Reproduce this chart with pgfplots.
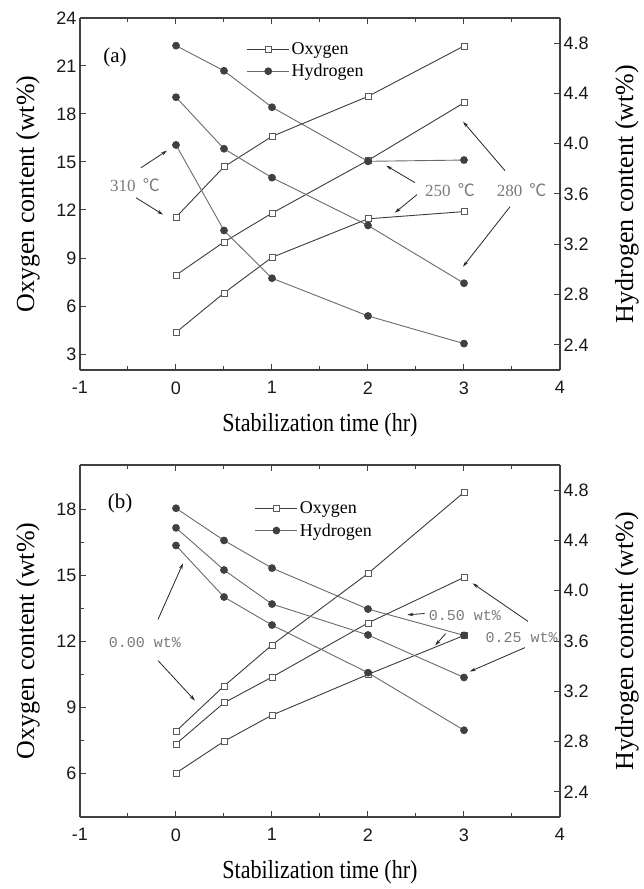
\documentclass[border=0pt]{standalone}
\usepackage{fontspec}
\setmainfont{Liberation Serif}
\setsansfont{Liberation Sans}
\setmonofont{Liberation Mono}
\newfontfamily\cjk{Noto Sans CJK SC}
\usepackage{graphicx}
\usepackage{pgfplots}
\pgfplotsset{compat=1.18}
\usetikzlibrary{arrows.meta}

\definecolor{oline}{HTML}{3C3C3C}
\definecolor{hline}{HTML}{6A6A6A}
\definecolor{hfill}{HTML}{404040}
\definecolor{sqedge}{HTML}{5A5A5A}
\definecolor{annoc}{HTML}{7A7A7A}
\definecolor{axc}{HTML}{404040}

\tikzset{
  anno/.style={text=annoc, font=\fontsize{17}{17}\selectfont},
  annomono/.style={text=annoc, font=\fontsize{15}{15}\selectfont\ttfamily},
  arr/.style={-{Stealth[length=6pt,width=3.5pt]}, line width=0.8pt, black!85},
}

\pgfplotsset{
  base/.style={
    scale only axis, width=480pt, height=352pt,
    xmin=-1, xmax=4, xtick={-1,0,1,2,3,4}, minor x tick num=1,
    axis line style={axc, line width=1.2pt},
    tick style={axc, line width=1pt},
    major tick length=6pt, minor tick length=4pt,
    tick label style={font=\fontsize{18}{18}\selectfont\sffamily, text=black!90},
    xticklabel style={yshift=-8pt},
    /pgf/number format/assume math mode=true,
    clip=false,
    legend image code/.code={\draw[mark repeat=2,mark phase=2] plot coordinates {(0pt,0pt)(21pt,0pt)(42pt,0pt)};},
  },
  omark/.style={oline, line width=0.9pt, mark=square*, mark size=3pt, mark options={fill=white, draw=sqedge, line width=0.8pt, solid}},
  hmark/.style={hline, line width=0.9pt, mark=*, mark size=3.4pt, mark options={fill=hfill, draw=hfill, solid}},
  leftax/.style={base, axis y line*=left,
    xlabel={\fontsize{26}{26}\selectfont\scalebox{0.85}[1]{Stabilization time (hr)}},
    xlabel style={at={(axis description cs:0.5,0)}, anchor=center, yshift=-55pt},
    ylabel={\fontsize{26}{26}\selectfont Oxygen content (wt\%)},
    ylabel style={at={(axis description cs:0,0.5)}, anchor=center, yshift=52pt},
  },
  rightax/.style={base, axis y line*=right, axis x line=none,
    ymin=2.2, ymax=5.0, ytick={2.4,2.8,3.2,3.6,4.0,4.4,4.8},
    yticklabel style={/pgf/number format/.cd, fixed, fixed zerofill, precision=1},
    ylabel={\fontsize{26}{26}\selectfont Hydrogen content (wt\%)},
    ylabel style={at={(axis description cs:1,0.5)}, anchor=center, yshift=-67pt},
    legend style={draw=none, fill=none, font=\fontsize{18}{18}\selectfont, row sep=4.5pt, inner sep=1pt, cells={anchor=west}},
  },
}

\begin{document}
\begin{tikzpicture}
\path[use as bounding box] (-80pt,-519pt) rectangle (563pt,370pt);

% ---------------- panel (a) ----------------
\begin{axis}[leftax, at={(0pt,0pt)}, ymin=2, ymax=24, ytick={3,6,9,12,15,18,21,24}]
\addplot[omark] coordinates {(0,4.35) (0.5,6.81) (1,9.04) (2,11.45) (3,11.9)};
\addplot[omark] coordinates {(0,7.93) (0.5,10.0) (1,11.8) (2,15.1) (3,18.7)};
\addplot[omark] coordinates {(0,11.55) (0.5,14.7) (1,16.6) (2,19.1) (3,22.25)};
\node[font=\fontsize{21}{21}\selectfont] at (axis cs:-0.635,21.56) {(a)};
\node[anno] at (axis cs:-0.427,13.58) {310\, {\cjk ℃}};
\draw[arr] (axis cs:-0.365,14.64) -- (axis cs:-0.094,15.71);
\draw[arr] (axis cs:-0.417,12.77) -- (axis cs:-0.135,11.71);
\node[anno] at (axis cs:2.854,13.27) {250\, {\cjk ℃}};
\draw[arr] (axis cs:2.49,13.71) -- (axis cs:2.19,14.77);
\draw[arr] (axis cs:2.51,12.96) -- (axis cs:2.28,11.83);
\node[anno] at (axis cs:3.60,13.27) {280\, {\cjk ℃}};
\draw[arr] (axis cs:3.427,14.46) -- (axis cs:2.99,17.52);
\draw[arr] (axis cs:3.48,12.21) -- (axis cs:2.99,8.46);
\end{axis}
\begin{axis}[rightax, at={(0pt,0pt)},
  legend style={at={(axis description cs:0.345,0.94)}, anchor=north west}]
\addlegendimage{omark}
\addlegendentry{Oxygen}
\addplot[hmark] coordinates {(0,4.78) (0.5,4.58) (1,4.29) (2,3.86) (3,3.87)};
\addlegendentry{Hydrogen}
\addplot[hmark, forget plot] coordinates {(0,4.37) (0.5,3.96) (1,3.73) (2,3.35) (3,2.89)};
\addplot[hmark, forget plot] coordinates {(0,3.99) (0.5,3.31) (1,2.93) (2,2.63) (3,2.41)};
\end{axis}

% ---------------- panel (b) ----------------
\begin{axis}[leftax, at={(0pt,-447pt)}, ymin=4, ymax=20, ytick={6,9,12,15,18}, minor y tick num=1]
\addplot[omark] coordinates {(0,7.9) (0.5,9.95) (1,11.82) (2,15.07) (3,18.76)};
\addplot[omark] coordinates {(0,7.32) (0.5,9.19) (1,10.36) (2,12.82) (3,14.89)};
\addplot[omark] coordinates {(0,6.0) (0.5,7.44) (1,8.63) (2,10.48) (3,12.25)};
\node[font=\fontsize{21}{21}\selectfont] at (axis cs:-0.583,18.27) {(b)};
\node[annomono] at (axis cs:-0.323,11.93) {0.00 wt\%};
\draw[arr] (axis cs:-0.1875,12.98) -- (axis cs:0.073,15.53);
\draw[arr] (axis cs:-0.1875,11.11) -- (axis cs:0.198,9.29);
\node[annomono] at (axis cs:3.01,13.16) {0.50 wt\%};
\draw[arr] (axis cs:2.59,13.25) -- (axis cs:2.41,13.19);
\draw[arr] (axis cs:2.81,12.34) -- (axis cs:2.70,11.80);
\node[annomono] at (axis cs:3.60,12.16) {0.25 wt\%};
\draw[arr] (axis cs:3.667,12.89) -- (axis cs:3.09,14.62);
\draw[arr] (axis cs:3.635,11.70) -- (axis cs:3.06,10.61);
\end{axis}
\begin{axis}[rightax, at={(0pt,-447pt)},
  legend style={at={(axis description cs:0.362,0.905)}, anchor=north west}]
\addlegendimage{omark}
\addlegendentry{Oxygen}
\addplot[hmark] coordinates {(0,4.656) (0.5,4.40) (1,4.18) (2,3.854) (3,3.645)};
\addlegendentry{Hydrogen}
\addplot[hmark, forget plot] coordinates {(0,4.50) (0.5,4.165) (1,3.894) (2,3.648) (3,3.31)};
\addplot[hmark, forget plot] coordinates {(0,4.36) (0.5,3.95) (1,3.727) (2,3.348) (3,2.89)};
\end{axis}
\end{tikzpicture}
\end{document}
